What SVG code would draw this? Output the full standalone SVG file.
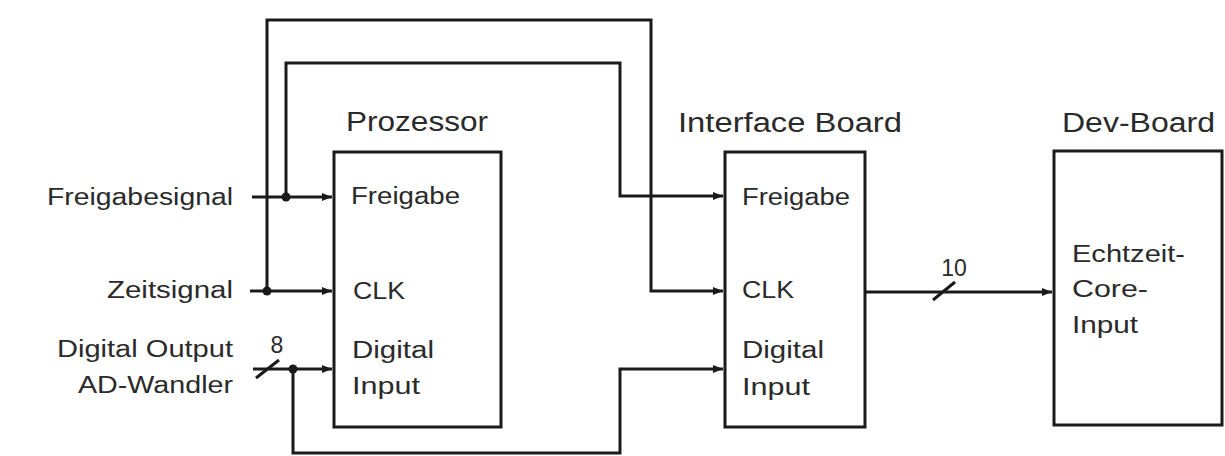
<svg xmlns="http://www.w3.org/2000/svg" width="1225" height="456" viewBox="0 0 1225 456">
<style>
.box{fill:#fff;stroke:#1a1a1a;stroke-width:3}
.w{fill:none;stroke:#1a1a1a;stroke-width:3}
.t{font-family:"Liberation Sans",Arial,sans-serif;font-size:23px;fill:#2a2a2a}
.h{font-family:"Liberation Sans",Arial,sans-serif;font-size:27px;fill:#2a2a2a}
.dot{fill:#1a1a1a}
</style>
<defs>
<marker id="ah" markerWidth="10" markerHeight="8" refX="10" refY="4" orient="auto" markerUnits="userSpaceOnUse">
<path d="M0,0 L10,4 L0,8 Z" fill="#1a1a1a"/>
</marker>
</defs>
<rect width="1225" height="456" fill="#fff"/>
<g id="connectors">
<path class="w" d="M252,197 H332" marker-end="url(#ah)"/>
<path class="w" d="M286,197 V63 H620 V196 H723" marker-end="url(#ah)"/>
<path class="w" d="M250,291 H332" marker-end="url(#ah)"/>
<path class="w" d="M267,291 V20 H651 V291 H723" marker-end="url(#ah)"/>
<path class="w" d="M253,369 H332" marker-end="url(#ah)"/>
<path class="w" d="M293,369 V453 H620 V369 H723" marker-end="url(#ah)"/>
<path class="w" d="M865,292 H1052" marker-end="url(#ah)"/>
<line class="w" x1="256" y1="378" x2="279" y2="360"/>
<line class="w" x1="933" y1="300" x2="955" y2="282"/>
<circle class="dot" cx="286" cy="197" r="4.5"/>
<circle class="dot" cx="267" cy="291" r="4.5"/>
<circle class="dot" cx="293" cy="369" r="4.5"/>
<text class="t" x="277" y="353" text-anchor="middle" font-size="18">8</text>
<text class="t" x="954" y="276" text-anchor="middle" font-size="18">10</text>
</g>
<g id="inputs">
<text class="t" x="47" y="205" textLength="186" lengthAdjust="spacingAndGlyphs">Freigabesignal</text>
<text class="t" x="107" y="298" textLength="126" lengthAdjust="spacingAndGlyphs">Zeitsignal</text>
<text class="t" x="57" y="357" textLength="176" lengthAdjust="spacingAndGlyphs">Digital Output</text>
<text class="t" x="78" y="393" textLength="155" lengthAdjust="spacingAndGlyphs">AD-Wandler</text>
</g>
<g id="prozessor">
<text class="h" x="346" y="131" textLength="142" lengthAdjust="spacingAndGlyphs">Prozessor</text>
<rect class="box" x="334" y="152" width="167" height="275"/>
<text class="t" x="351" y="204" textLength="109" lengthAdjust="spacingAndGlyphs">Freigabe</text>
<text class="t" x="353" y="299" textLength="52" lengthAdjust="spacingAndGlyphs">CLK</text>
<text class="t" x="352" y="358" textLength="82" lengthAdjust="spacingAndGlyphs">Digital</text>
<text class="t" x="352" y="394" textLength="68" lengthAdjust="spacingAndGlyphs">Input</text>
</g>
<g id="interface">
<text class="h" x="678" y="132" textLength="224" lengthAdjust="spacingAndGlyphs">Interface Board</text>
<rect class="box" x="725" y="152" width="140" height="275"/>
<text class="t" x="742" y="205" textLength="108" lengthAdjust="spacingAndGlyphs">Freigabe</text>
<text class="t" x="742" y="298" textLength="52" lengthAdjust="spacingAndGlyphs">CLK</text>
<text class="t" x="742" y="358" textLength="82" lengthAdjust="spacingAndGlyphs">Digital</text>
<text class="t" x="742" y="395" textLength="68" lengthAdjust="spacingAndGlyphs">Input</text>
</g>
<g id="devboard">
<text class="h" x="1062" y="132" textLength="153" lengthAdjust="spacingAndGlyphs">Dev-Board</text>
<rect class="box" x="1054" y="151" width="168" height="274"/>
<text class="t" x="1072" y="262" textLength="113" lengthAdjust="spacingAndGlyphs">Echtzeit-</text>
<text class="t" x="1072" y="297" textLength="76" lengthAdjust="spacingAndGlyphs">Core-</text>
<text class="t" x="1072" y="333" textLength="66" lengthAdjust="spacingAndGlyphs">Input</text>
</g>
</svg>
